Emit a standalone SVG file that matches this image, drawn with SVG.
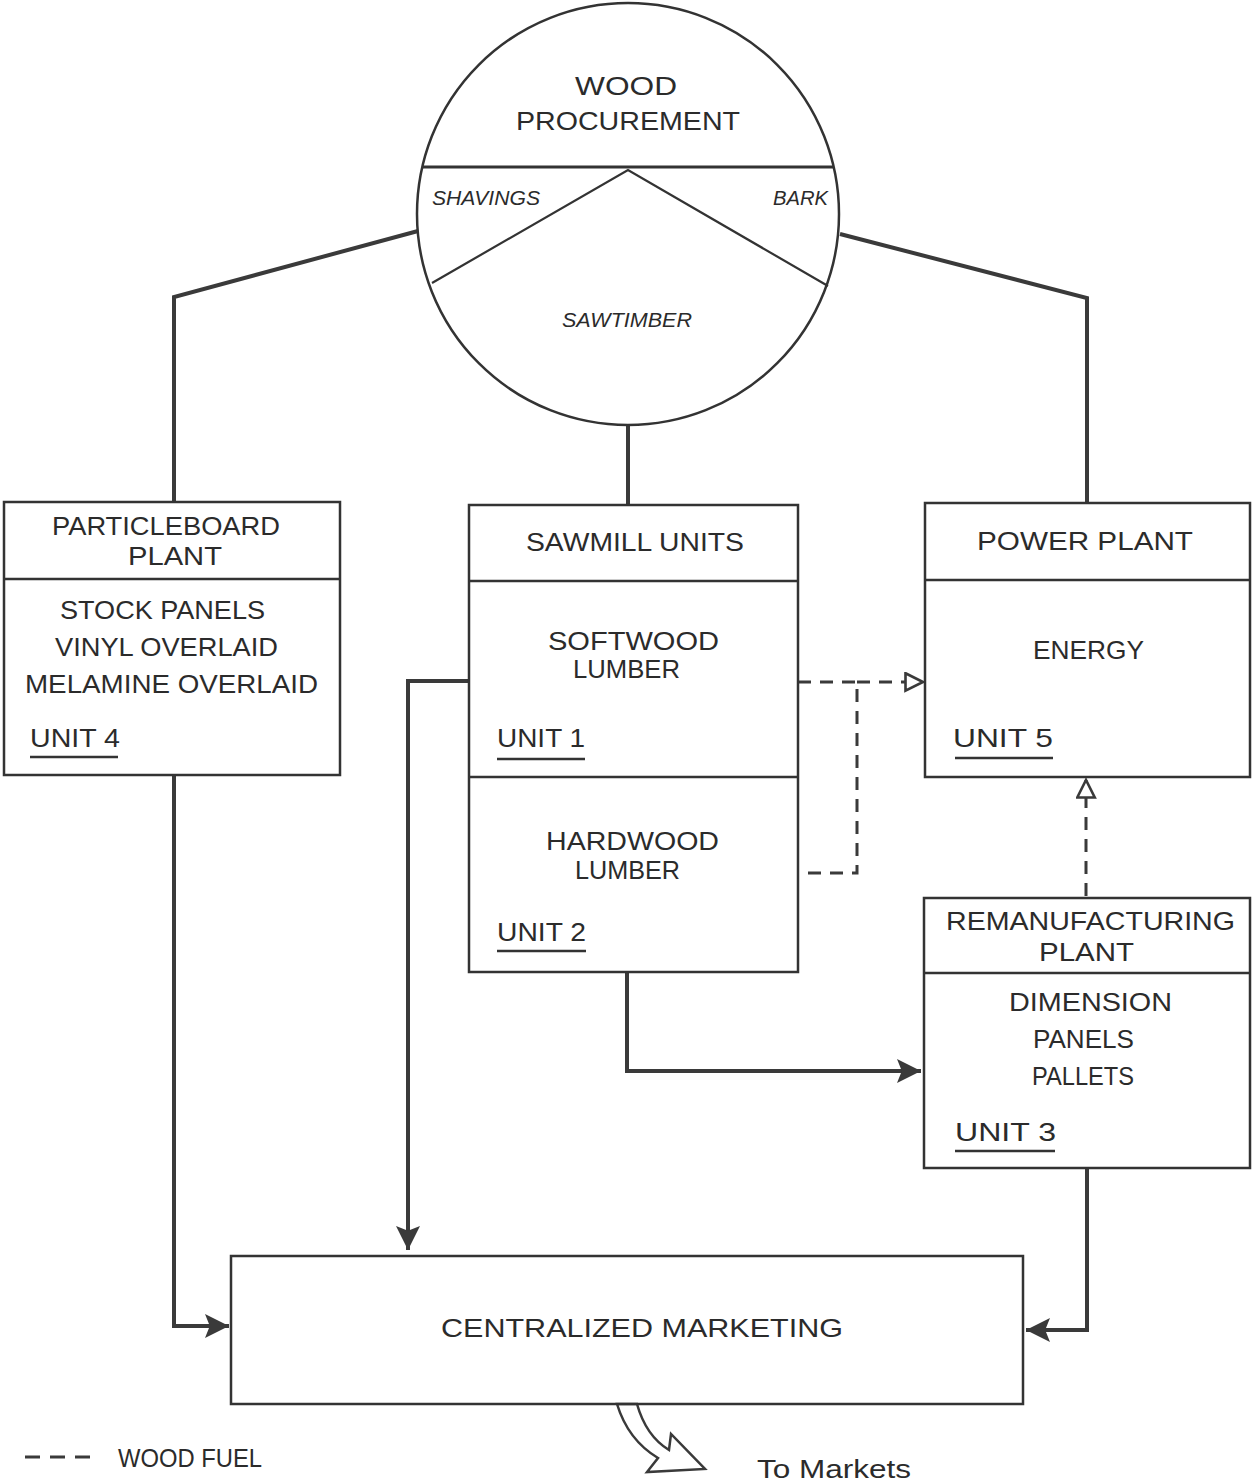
<svg xmlns="http://www.w3.org/2000/svg" width="1252" height="1483" viewBox="0 0 1252 1483">
<style>
  .bg{fill:#ffffff}
  .box{fill:none;stroke:#333;stroke-width:2.5}
  .t{font-family:"Liberation Sans","DejaVu Sans",sans-serif;font-size:26px;fill:#2b2b2b;text-anchor:start}
  .it{font-family:"Liberation Sans","DejaVu Sans",sans-serif;font-size:20px;font-style:italic;fill:#2b2b2b}
  .ul{stroke:#333;stroke-width:2.5}
  .con{fill:none;stroke:#3a3a3a;stroke-width:4}
  .dash{fill:none;stroke:#3a3a3a;stroke-width:3;stroke-dasharray:13 9}
</style>
<defs>
  <marker id="ah" viewBox="0 0 10 10" refX="10" refY="5" markerWidth="6" markerHeight="6" orient="auto">
    <path d="M0,0 L10,5 L0,10 L2,5 Z" fill="#3a3a3a"/>
  </marker>
  <marker id="open" viewBox="0 0 12 12" refX="11" refY="6" markerWidth="7" markerHeight="7" orient="auto">
    <path d="M1,1 L11,6 L1,11 Z" fill="#fff" stroke="#3a3a3a" stroke-width="1.5"/>
  </marker>
</defs>
<rect class="bg" x="0" y="0" width="1252" height="1483"/>

<g id="connectors">
  <polyline class="con" points="418,231 174,297 174,503"/>
  <polyline class="con" points="840,234 1087,298 1087,503"/>
  <line class="con" x1="628" y1="426" x2="628" y2="505"/>
  <polyline class="con" points="469,681 408,681 408,1250" marker-end="url(#ah)"/>
  <polyline class="con" points="174,775 174,1326 229,1326" marker-end="url(#ah)"/>
  <polyline class="con" points="627,972 627,1071 921,1071" marker-end="url(#ah)"/>
  <polyline class="con" points="1087,1168 1087,1330 1026,1330" marker-end="url(#ah)"/>
  <polyline class="dash" points="798,682 857,682 857,873 798,873"/>
  <line class="dash" x1="857" y1="682" x2="923" y2="682" marker-end="url(#open)"/>
  <line class="dash" x1="1086" y1="896" x2="1086" y2="780" marker-end="url(#open)"/>
  <path d="M617,1404 Q628,1440 658,1458 L647,1472 L705,1469 L671,1434 L669,1450 Q646,1436 637,1404 Z" fill="#fff" stroke="#3a3a3a" stroke-width="2.5" stroke-linejoin="miter"/>
</g>

<g id="wood-procurement">
  <circle cx="628" cy="214" r="211" fill="#fff" stroke="#333" stroke-width="2.5"/>
  <line x1="423" y1="167" x2="834" y2="167" stroke="#333" stroke-width="3"/>
  <polyline points="432,283 628,170 828,286" fill="none" stroke="#333" stroke-width="2.2"/>
  <text class="t" x="575" y="95" font-size="28" textLength="102" lengthAdjust="spacingAndGlyphs">WOOD</text>
  <text class="t" x="516" y="130" font-size="28" textLength="224" lengthAdjust="spacingAndGlyphs">PROCUREMENT</text>
  <text class="it" x="432" y="205" textLength="108" lengthAdjust="spacingAndGlyphs">SHAVINGS</text>
  <text class="it" x="773" y="205" textLength="55" lengthAdjust="spacingAndGlyphs">BARK</text>
  <text class="it" x="562" y="327" textLength="130" lengthAdjust="spacingAndGlyphs">SAWTIMBER</text>
</g>

<g id="particleboard-plant">
  <rect class="box" x="4" y="502" width="336" height="273" fill="#fff"/>
  <line class="box" x1="4" y1="579" x2="340" y2="579"/>
  <text class="t" x="52" y="535" textLength="228" lengthAdjust="spacingAndGlyphs">PARTICLEBOARD</text>
  <text class="t" x="128" y="565" textLength="94" lengthAdjust="spacingAndGlyphs">PLANT</text>
  <text class="t" x="60" y="619" textLength="205" lengthAdjust="spacingAndGlyphs">STOCK PANELS</text>
  <text class="t" x="55" y="656" textLength="223" lengthAdjust="spacingAndGlyphs">VINYL OVERLAID</text>
  <text class="t" x="25" y="693" textLength="293" lengthAdjust="spacingAndGlyphs">MELAMINE OVERLAID</text>
  <text class="t" x="30" y="747" textLength="90" lengthAdjust="spacingAndGlyphs">UNIT 4</text>
  <line class="ul" x1="30" y1="757" x2="118" y2="757"/>
</g>

<g id="sawmill-units">
  <rect class="box" x="469" y="505" width="329" height="467" fill="#fff"/>
  <line class="box" x1="469" y1="581" x2="798" y2="581"/>
  <line class="box" x1="469" y1="777" x2="798" y2="777"/>
  <text class="t" x="526" y="551" textLength="218" lengthAdjust="spacingAndGlyphs">SAWMILL UNITS</text>
  <text class="t" x="548" y="650" font-size="24" textLength="171" lengthAdjust="spacingAndGlyphs">SOFTWOOD</text>
  <text class="t" x="573" y="678" font-size="24" textLength="107" lengthAdjust="spacingAndGlyphs">LUMBER</text>
  <text class="t" x="497" y="747" textLength="88" lengthAdjust="spacingAndGlyphs">UNIT 1</text>
  <line class="ul" x1="497" y1="759" x2="585" y2="759"/>
  <text class="t" x="546" y="850" font-size="24" textLength="173" lengthAdjust="spacingAndGlyphs">HARDWOOD</text>
  <text class="t" x="575" y="879" font-size="24" textLength="105" lengthAdjust="spacingAndGlyphs">LUMBER</text>
  <text class="t" x="497" y="941" textLength="89" lengthAdjust="spacingAndGlyphs">UNIT 2</text>
  <line class="ul" x1="497" y1="951" x2="586" y2="951"/>
</g>

<g id="power-plant">
  <rect class="box" x="925" y="503" width="325" height="274" fill="#fff"/>
  <line class="box" x1="925" y1="580" x2="1250" y2="580"/>
  <text class="t" x="977" y="550" textLength="216" lengthAdjust="spacingAndGlyphs">POWER  PLANT</text>
  <text class="t" x="1033" y="659" textLength="111" lengthAdjust="spacingAndGlyphs">ENERGY</text>
  <text class="t" x="953" y="747" textLength="100" lengthAdjust="spacingAndGlyphs">UNIT  5</text>
  <line class="ul" x1="955" y1="758" x2="1053" y2="758"/>
</g>

<g id="remanufacturing-plant">
  <rect class="box" x="924" y="898" width="326" height="270" fill="#fff"/>
  <line class="box" x1="924" y1="973" x2="1250" y2="973"/>
  <text class="t" x="946" y="930" textLength="289" lengthAdjust="spacingAndGlyphs">REMANUFACTURING</text>
  <text class="t" x="1039" y="961" textLength="95" lengthAdjust="spacingAndGlyphs">PLANT</text>
  <text class="t" x="1009" y="1011" textLength="163" lengthAdjust="spacingAndGlyphs">DIMENSION</text>
  <text class="t" x="1033" y="1048" textLength="101" lengthAdjust="spacingAndGlyphs">PANELS</text>
  <text class="t" x="1032" y="1085" textLength="102" lengthAdjust="spacingAndGlyphs">PALLETS</text>
  <text class="t" x="955" y="1141" textLength="101" lengthAdjust="spacingAndGlyphs">UNIT  3</text>
  <line class="ul" x1="955" y1="1151" x2="1055" y2="1151"/>
</g>

<g id="centralized-marketing">
  <rect class="box" x="231" y="1256" width="792" height="148" fill="#fff"/>
  <text class="t" x="441" y="1337" textLength="402" lengthAdjust="spacingAndGlyphs">CENTRALIZED  MARKETING</text>
</g>

<g id="to-markets">
  <text class="t" x="757" y="1478" font-size="24" textLength="154" lengthAdjust="spacingAndGlyphs">To  Markets</text>
</g>

<g id="legend">
  <line x1="25" y1="1457" x2="100" y2="1457" stroke="#3a3a3a" stroke-width="3" stroke-dasharray="15 10"/>
  <text class="t" x="118" y="1467" font-size="18" textLength="144" lengthAdjust="spacingAndGlyphs">WOOD  FUEL</text>
</g>
</svg>
